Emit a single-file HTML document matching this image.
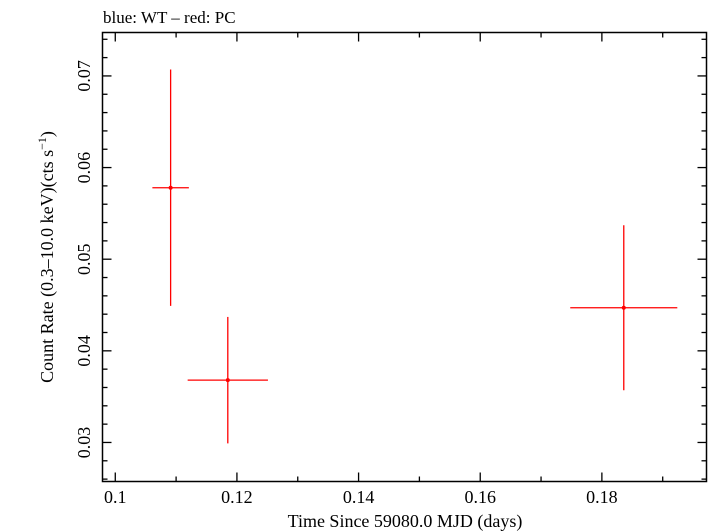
<!DOCTYPE html>
<html><head><meta charset="utf-8"><style>
html,body{margin:0;padding:0;background:#fff;}
svg{display:block;font-family:"Liberation Serif",serif;}
</style></head><body>
<svg id="chart" width="709" height="532" viewBox="0 0 709 532" xmlns="http://www.w3.org/2000/svg">
<text x="103" y="23" font-size="17">blue: WT – red: PC</text>
<rect x="102.5" y="32.5" width="604" height="449" fill="none" stroke="#000" stroke-width="1.5"/>
<g id="ticks"></g>
<g id="marks"></g>
<text x="405" y="527" font-size="18" text-anchor="middle">Time Since 59080.0 MJD (days)</text>
<text transform="translate(53,257) rotate(-90)" font-size="18" text-anchor="middle">Count Rate (0.3–10.0 keV)(cts s<tspan dy="-7" font-size="12">−1</tspan><tspan dy="7">)</tspan></text>
</svg>
<script>
const times=[0.1091,0.1185,0.1836];
const timeErr=[0.0030,0.0066,0.0088];
const rates=[0.0578,0.0368,0.0447];
const rateErr=[0.0129,0.0069,0.0090];
const xTickLabels=["0.1","0.12","0.14","0.16","0.18"];
const yTickLabels=["0.03","0.04","0.05","0.06","0.07"];
const NS="http://www.w3.org/2000/svg";
const X0=102.5,X1=706.5,Y0=32.5,Y1=481.5;
const xd=[0.0979,0.1972],yd=[0.02574,0.07474];
const sx=v=>X0+(v-xd[0])/(xd[1]-xd[0])*(X1-X0);
const sy=v=>Y1-(v-yd[0])/(yd[1]-yd[0])*(Y1-Y0);
function mk(tag,attrs,parent){const e=document.createElementNS(NS,tag);for(const k in attrs)e.setAttribute(k,attrs[k]);parent.appendChild(e);return e;}
const tg=document.getElementById('ticks');
for(let i=0;i<=10;i++){const v=+(0.1+i*0.01).toFixed(3);if(v>xd[1])break;const x=sx(v);const L=i%2===0?9:5;
 let t=mk('line',{x1:x,x2:x,y1:Y1,y2:Y1-L,stroke:'#000','stroke-width':1.3},tg);
 
 
 t=mk('line',{x1:x,x2:x,y1:Y0,y2:Y0+L,stroke:'#000','stroke-width':1.3},tg);
 
 }
xTickLabels.forEach(s=>{const t=mk('text',{x:sx(parseFloat(s)),y:503,'font-size':18,'text-anchor':'middle'},tg);t.textContent=s;
 
 });
for(let i=0;i<=30;i++){const v=+(0.026+i*0.002).toFixed(4);if(v>yd[1])break;const y=sy(v);const L=(Math.round(v*1000)%10===0)?9:5;
 let t=mk('line',{x1:X0,x2:X0+L,y1:y,y2:y,stroke:'#000','stroke-width':1.3},tg);
 
 
 t=mk('line',{x1:X1,x2:X1-L,y1:y,y2:y,stroke:'#000','stroke-width':1.3},tg);
 
 }
yTickLabels.forEach(s=>{const y=sy(parseFloat(s));const t=mk('text',{transform:`translate(90,${y}) rotate(-90)`,'font-size':18,'text-anchor':'middle'},tg);t.textContent=s;
 
 });
const mg=document.getElementById('marks');
times.forEach((t,i)=>{const g=mk('g',{},mg);
 
 
 mk('line',{x1:sx(t),x2:sx(t),y1:sy(rates[i]+rateErr[i]),y2:sy(rates[i]-rateErr[i]),stroke:'#f00','stroke-width':1.3},g);
 mk('line',{x1:sx(t-timeErr[i]),x2:sx(t+timeErr[i]),y1:sy(rates[i]),y2:sy(rates[i]),stroke:'#f00','stroke-width':1.3},g);
 mk('circle',{cx:sx(t),cy:sy(rates[i]),r:2,fill:'#f00'},g);});
</script>
</body></html>
